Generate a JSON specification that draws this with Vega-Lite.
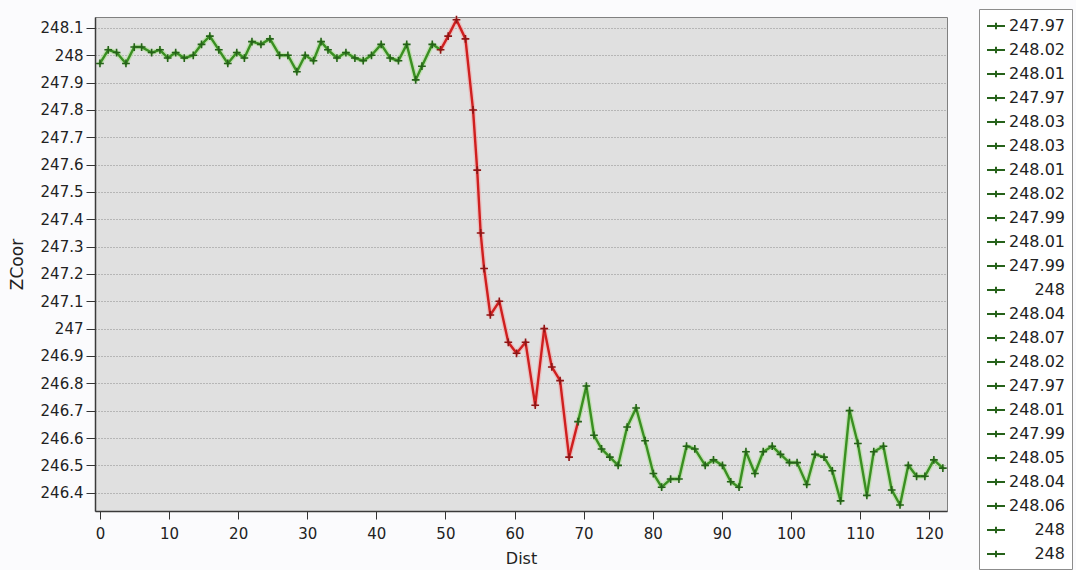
{
  "$schema": "https://vega.github.io/schema/vega-lite/v6.json",
  "width": 852,
  "height": 494,
  "autosize": {"type": "none"},
  "padding": {"left": 95, "top": 17, "right": 129, "bottom": 59},
  "background": "#fbfbfd",
  "config": {
    "view": {"fill": "#e0e0e0", "stroke": "#808080", "strokeWidth": 1},
    "font": "DejaVu Sans"
  },
  "data": {
    "values": [
      {"d": 0.0, "z": 247.97, "c": "g", "lg": "00 247.97"},
      {"d": 1.2, "z": 248.02, "c": "g", "lg": "01 248.02"},
      {"d": 2.4, "z": 248.01, "c": "g", "lg": "02 248.01"},
      {"d": 3.76, "z": 247.97, "c": "g", "lg": "03 247.97"},
      {"d": 4.96, "z": 248.03, "c": "g", "lg": "04 248.03"},
      {"d": 6.03, "z": 248.03, "c": "g", "lg": "05 248.03"},
      {"d": 7.48, "z": 248.01, "c": "g", "lg": "06 248.01"},
      {"d": 8.68, "z": 248.02, "c": "g", "lg": "07 248.02"},
      {"d": 9.8, "z": 247.99, "c": "g", "lg": "08 247.99"},
      {"d": 10.96, "z": 248.01, "c": "g", "lg": "09 248.01"},
      {"d": 12.2, "z": 247.99, "c": "g", "lg": "10 247.99"},
      {"d": 13.5, "z": 248.0, "c": "g", "lg": "11 \u200b\u00a0\u00a0\u00a0\u00a0\u00a0248"},
      {"d": 14.7, "z": 248.04, "c": "g", "lg": "12 248.04"},
      {"d": 15.9, "z": 248.07, "c": "g", "lg": "13 248.07"},
      {"d": 17.2, "z": 248.02, "c": "g", "lg": "14 248.02"},
      {"d": 18.5, "z": 247.97, "c": "g", "lg": "15 247.97"},
      {"d": 19.8, "z": 248.01, "c": "g", "lg": "16 248.01"},
      {"d": 20.9, "z": 247.99, "c": "g", "lg": "17 247.99"},
      {"d": 22.0, "z": 248.05, "c": "g", "lg": "18 248.05"},
      {"d": 23.3, "z": 248.04, "c": "g", "lg": "19 248.04"},
      {"d": 24.6, "z": 248.06, "c": "g", "lg": "20 248.06"},
      {"d": 26.0, "z": 248.0, "c": "g", "lg": "21 \u200b\u00a0\u00a0\u00a0\u00a0\u00a0248"},
      {"d": 27.2, "z": 248.0, "c": "g", "lg": "22 \u200b\u00a0\u00a0\u00a0\u00a0\u00a0248"},
      {"d": 28.5, "z": 247.94, "c": "g"},
      {"d": 29.7, "z": 248.0, "c": "g"},
      {"d": 30.9, "z": 247.98, "c": "g"},
      {"d": 32.0, "z": 248.05, "c": "g"},
      {"d": 33.0, "z": 248.02, "c": "g"},
      {"d": 34.3, "z": 247.99, "c": "g"},
      {"d": 35.6, "z": 248.01, "c": "g"},
      {"d": 36.9, "z": 247.99, "c": "g"},
      {"d": 38.1, "z": 247.98, "c": "g"},
      {"d": 39.3, "z": 248.0, "c": "g"},
      {"d": 40.7, "z": 248.04, "c": "g"},
      {"d": 42.0, "z": 247.99, "c": "g"},
      {"d": 43.2, "z": 247.98, "c": "g"},
      {"d": 44.4, "z": 248.04, "c": "g"},
      {"d": 45.7, "z": 247.91, "c": "g"},
      {"d": 46.6, "z": 247.96, "c": "g"},
      {"d": 48.1, "z": 248.04, "c": "g"},
      {"d": 49.3, "z": 248.02, "c": "r"},
      {"d": 50.4, "z": 248.07, "c": "r"},
      {"d": 51.6, "z": 248.13, "c": "r"},
      {"d": 52.9, "z": 248.06, "c": "r"},
      {"d": 54.0, "z": 247.8, "c": "r"},
      {"d": 54.6, "z": 247.58, "c": "r"},
      {"d": 55.1, "z": 247.35, "c": "r"},
      {"d": 55.6, "z": 247.22, "c": "r"},
      {"d": 56.5, "z": 247.05, "c": "r"},
      {"d": 57.8, "z": 247.1, "c": "r"},
      {"d": 59.1, "z": 246.95, "c": "r"},
      {"d": 60.3, "z": 246.91, "c": "r"},
      {"d": 61.6, "z": 246.95, "c": "r"},
      {"d": 63.0, "z": 246.72, "c": "r"},
      {"d": 64.3, "z": 247.0, "c": "r"},
      {"d": 65.4, "z": 246.86, "c": "r"},
      {"d": 66.6, "z": 246.81, "c": "r"},
      {"d": 67.9, "z": 246.53, "c": "r"},
      {"d": 69.2, "z": 246.66, "c": "g"},
      {"d": 70.4, "z": 246.79, "c": "g"},
      {"d": 71.5, "z": 246.61, "c": "g"},
      {"d": 72.6, "z": 246.56, "c": "g"},
      {"d": 73.8, "z": 246.53, "c": "g"},
      {"d": 75.0, "z": 246.5, "c": "g"},
      {"d": 76.3, "z": 246.64, "c": "g"},
      {"d": 77.6, "z": 246.71, "c": "g"},
      {"d": 78.9, "z": 246.59, "c": "g"},
      {"d": 80.1, "z": 246.47, "c": "g"},
      {"d": 81.3, "z": 246.42, "c": "g"},
      {"d": 82.6, "z": 246.45, "c": "g"},
      {"d": 83.8, "z": 246.45, "c": "g"},
      {"d": 84.9, "z": 246.57, "c": "g"},
      {"d": 86.1, "z": 246.56, "c": "g"},
      {"d": 87.6, "z": 246.5, "c": "g"},
      {"d": 88.8, "z": 246.52, "c": "g"},
      {"d": 90.1, "z": 246.5, "c": "g"},
      {"d": 91.3, "z": 246.44, "c": "g"},
      {"d": 92.5, "z": 246.42, "c": "g"},
      {"d": 93.5, "z": 246.55, "c": "g"},
      {"d": 94.8, "z": 246.47, "c": "g"},
      {"d": 96.0, "z": 246.55, "c": "g"},
      {"d": 97.3, "z": 246.57, "c": "g"},
      {"d": 98.5, "z": 246.54, "c": "g"},
      {"d": 99.8, "z": 246.51, "c": "g"},
      {"d": 100.9, "z": 246.51, "c": "g"},
      {"d": 102.3, "z": 246.43, "c": "g"},
      {"d": 103.5, "z": 246.54, "c": "g"},
      {"d": 104.8, "z": 246.53, "c": "g"},
      {"d": 106.0, "z": 246.48, "c": "g"},
      {"d": 107.2, "z": 246.37, "c": "g"},
      {"d": 108.5, "z": 246.7, "c": "g"},
      {"d": 109.7, "z": 246.58, "c": "g"},
      {"d": 111.0, "z": 246.39, "c": "g"},
      {"d": 112.0, "z": 246.55, "c": "g"},
      {"d": 113.4, "z": 246.57, "c": "g"},
      {"d": 114.6, "z": 246.41, "c": "g"},
      {"d": 115.8, "z": 246.355, "c": "g"},
      {"d": 117.0, "z": 246.5, "c": "g"},
      {"d": 118.2, "z": 246.46, "c": "g"},
      {"d": 119.4, "z": 246.46, "c": "g"},
      {"d": 120.7, "z": 246.52, "c": "g"},
      {"d": 122.0, "z": 246.49, "c": "g"}
    ]
  },
  "transform": [
    {
      "window": [
        {"op": "lead", "field": "d", "as": "d2"},
        {"op": "lead", "field": "z", "as": "z2"}
      ],
      "sort": [{"field": "d", "order": "ascending"}]
    }
  ],
  "encoding": {
    "x": {
      "field": "d",
      "type": "quantitative",
      "scale": {"domain": [-0.72, 122.6], "nice": false, "zero": false},
      "axis": {
        "title": "Dist",
        "values": [0, 10, 20, 30, 40, 50, 60, 70, 80, 90, 100, 110, 120],
        "grid": false,
        "tickSize": 8,
        "tickColor": "#333333",
        "domainColor": "#3a3a3a",
        "domainWidth": 1.5,
        "labelFont": "DejaVu Sans",
        "labelFontSize": 15,
        "labelColor": "#222222",
        "labelPadding": 7,
        "titleFont": "DejaVu Sans",
        "titleFontSize": 16,
        "titleFontWeight": "normal",
        "titleColor": "#222222",
        "titlePadding": 9
      }
    },
    "y": {
      "field": "z",
      "type": "quantitative",
      "scale": {"domain": [246.333, 248.14], "nice": false, "zero": false},
      "axis": {
        "title": "ZCoor",
        "values": [246.4, 246.5, 246.6, 246.7, 246.8, 246.9, 247.0, 247.1, 247.2, 247.3, 247.4, 247.5, 247.6, 247.7, 247.8, 247.9, 248.0, 248.1],
        "format": "~g",
        "grid": true,
        "gridColor": "#8c8c8c",
        "gridDash": [1, 2],
        "gridWidth": 1,
        "tickSize": 9,
        "tickColor": "#333333",
        "domainColor": "#3a3a3a",
        "domainWidth": 1.5,
        "labelFont": "DejaVu Sans",
        "labelFontSize": 15,
        "labelColor": "#222222",
        "labelPadding": 3,
        "titleFont": "DejaVu Sans",
        "titleFontSize": 17,
        "titleFontWeight": "normal",
        "titleColor": "#222222",
        "titlePadding": 14
      }
    }
  },
  "layer": [
    {
      "transform": [{"filter": "datum.d2 != null"}],
      "mark": {"type": "rule", "strokeWidth": 5, "strokeCap": "round", "opacity": 0.55},
      "encoding": {
        "x2": {"field": "d2"},
        "y2": {"field": "z2"},
        "color": {
          "field": "c",
          "type": "nominal",
          "scale": {"domain": ["g", "r"], "range": ["#a9e08e", "#f4a5a5"]},
          "legend": null
        }
      }
    },
    {
      "transform": [{"filter": "datum.d2 != null"}],
      "mark": {"type": "rule", "strokeWidth": 2.4, "strokeCap": "round"},
      "encoding": {
        "x2": {"field": "d2"},
        "y2": {"field": "z2"},
        "color": {
          "field": "c",
          "type": "nominal",
          "scale": {"domain": ["g", "r"], "range": ["#3a8f22", "#cf1f1f"]},
          "legend": null
        }
      }
    },
    {
      "transform": [{"filter": "datum.lg == null"}],
      "mark": {"type": "point", "shape": "M-1,0L1,0M0,-1L0,1", "filled": false, "size": 60, "strokeWidth": 1.6, "opacity": 1},
      "encoding": {
        "color": {
          "field": "c",
          "type": "nominal",
          "scale": {"domain": ["g", "r"], "range": ["#26621a", "#8e1616"]},
          "legend": null
        }
      }
    },
    {
      "transform": [{"filter": "datum.lg != null"}],
      "mark": {"type": "point", "shape": "M-1,0L1,0M0,-1L0,1", "filled": false, "size": 60, "strokeWidth": 1.6, "opacity": 1},
      "encoding": {
        "color": {
          "field": "lg",
          "type": "nominal",
          "scale": {"range": ["#26621a"]},
          "legend": {
            "title": null,
            "orient": "none",
            "legendX": 884,
            "legendY": -8,
            "symbolType": "M-1,0L1,0M0,-0.35L0,0.35",
            "symbolSize": 324,
            "symbolStrokeWidth": 2,
            "labelExpr": "slice(datum.label, 3)",
            "labelFont": "DejaVu Sans",
            "labelFontSize": 16,
            "labelColor": "#222222",
            "labelOffset": 3,
            "labelLimit": 200,
            "rowPadding": 6,
            "padding": 7,
            "fillColor": "#ffffff",
            "strokeColor": "#8c8c8c"
          }
        }
      }
    }
  ],
  "resolve": {"scale": {"color": "independent"}}
}
